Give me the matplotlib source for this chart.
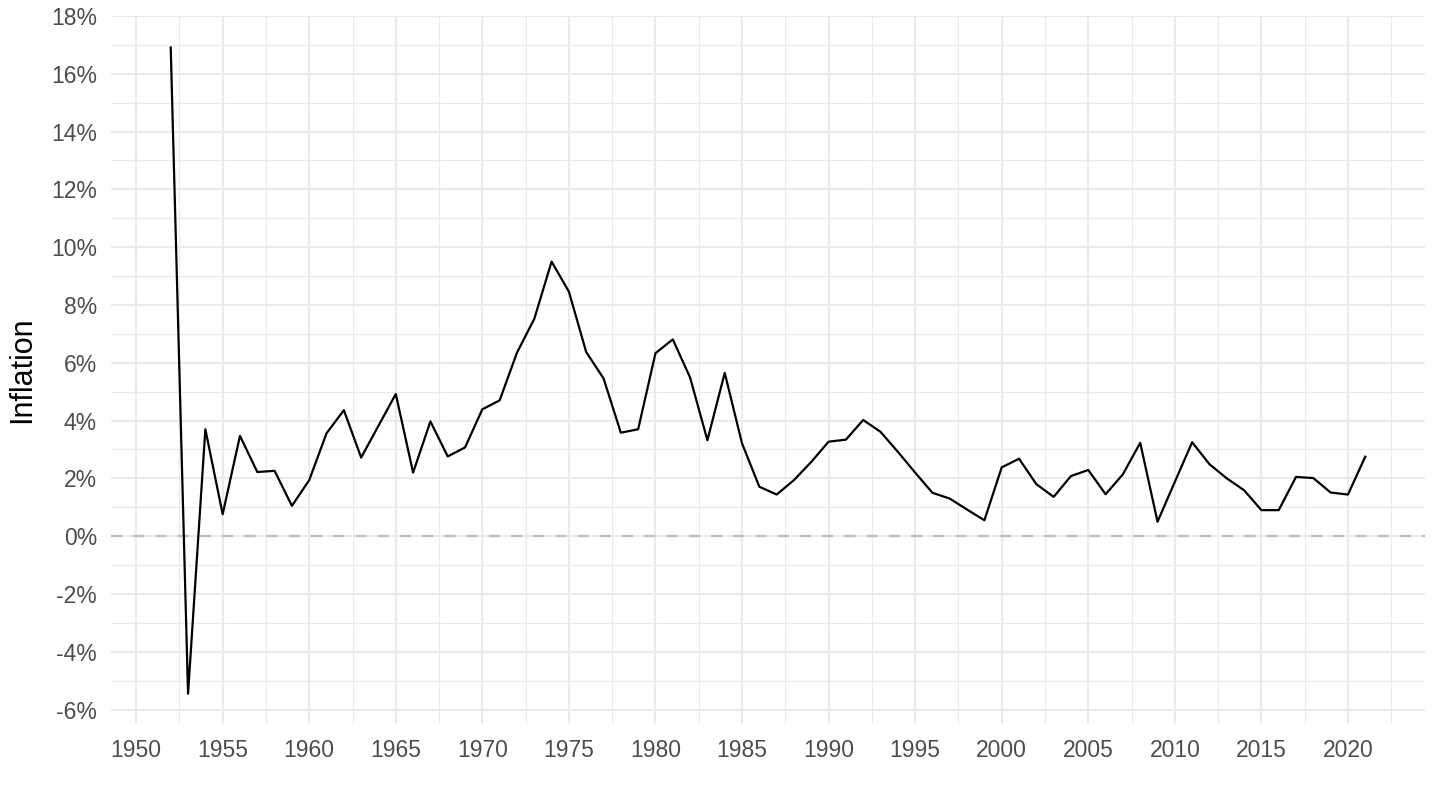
import matplotlib
matplotlib.use("Agg")
import matplotlib.pyplot as plt
from matplotlib.ticker import MultipleLocator, FuncFormatter

years = list(range(1952, 2022))
inflation = [
    16.91, -5.45, 3.70, 0.76, 3.47, 2.22, 2.26, 1.05, 1.94, 3.56,
    4.36, 2.72, 3.82, 4.92, 2.20, 3.97, 2.76, 3.07, 4.39, 4.70,
    6.35, 7.52, 9.50, 8.46, 6.37, 5.46, 3.58, 3.70, 6.33, 6.81,
    5.49, 3.32, 5.65, 3.21, 1.71, 1.44, 1.94, 2.57, 3.27, 3.34,
    4.02, 3.61, 2.92, 2.20, 1.50, 1.30, 0.92, 0.55, 2.38, 2.68,
    1.80, 1.36, 2.08, 2.29, 1.45, 2.14, 3.23, 0.50, 1.88, 3.25,
    2.49, 2.00, 1.59, 0.90, 0.90, 2.05, 2.01, 1.51, 1.44, 2.75,
]
y_label = "Inflation"

plt.rcParams['font.family'] = ['Liberation Sans', 'DejaVu Sans']

fig = plt.figure(figsize=(14.4, 8.1), dpi=100)
ax = fig.add_axes([111/1440, 1 - 724/810, (1425-111)/1440, (724-16)/810])

ax.plot(years, inflation, color="black", linewidth=1.6, zorder=3)
ax.axhline(0, color="#BEBEBE", linewidth=1.6, linestyle=(0, (5, 5)), zorder=2)

span = years[-1] - years[0]
ax.set_xlim(years[0] - 0.05 * span, years[-1] + 0.05 * span)
ax.set_ylim(-6.5, 18.0)

ax.xaxis.set_major_locator(MultipleLocator(5))
ax.xaxis.set_minor_locator(MultipleLocator(2.5))
ax.yaxis.set_major_locator(MultipleLocator(2))
ax.yaxis.set_minor_locator(MultipleLocator(1))
ax.yaxis.set_major_formatter(FuncFormatter(lambda v, p: f"{v:.0f}%"))
ax.xaxis.set_major_formatter(FuncFormatter(lambda v, p: f"{v:.0f}"))

ax.grid(which="major", color="#EBEBEB", linewidth=1.5, zorder=0)
ax.grid(which="minor", color="#EBEBEB", linewidth=0.8, zorder=0)
ax.set_axisbelow(True)
for s in ax.spines.values():
    s.set_visible(False)
ax.tick_params(which="both", length=0)
ax.tick_params(axis="both", labelsize=16.5, labelcolor="#4D4D4D")
ax.tick_params(axis="x", pad=11)
ax.tick_params(axis="y", pad=10)

ax.set_ylabel(y_label, fontsize=22, color="black", labelpad=10)

fig.savefig("out.png", dpi=100, facecolor="white")
